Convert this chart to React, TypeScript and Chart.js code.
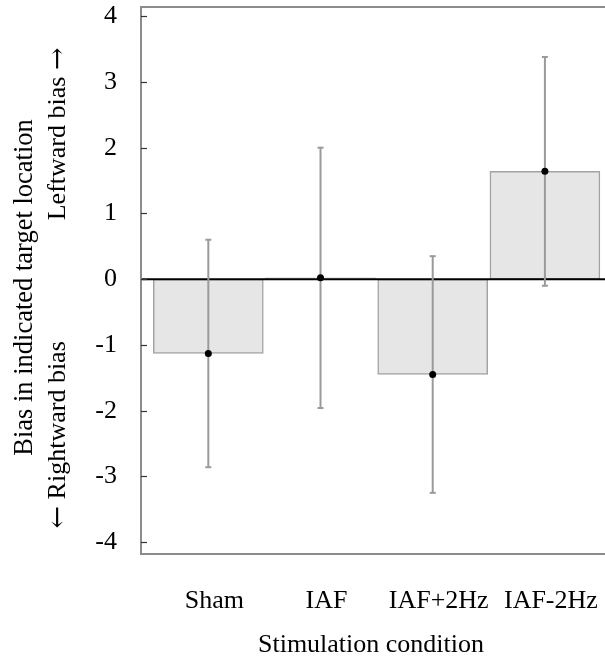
import { useEffect, useRef } from "react";
import { Chart, registerables } from "chart.js";

Chart.register(...registerables);

const categories = ["Sham", "IAF", "IAF+2Hz", "IAF-2Hz"];
const means = [-1.13, 0.02, -1.45, 1.64];
const errors = [1.73, 1.98, 1.8, 1.74];
const yTitleLine1 = "Bias in indicated target location";
const yTitleLow = "Rightward bias";
const yTitleHigh = "Leftward bias";
const xTitle = "Stimulation condition";

const FONT = "'Liberation Serif', 'Times New Roman', serif";
const ARROW_FONT = "'DejaVu Serif', 'Liberation Serif', serif";

function seg(ctx: CanvasRenderingContext2D, x1: number, y1: number, x2: number, y2: number) {
  ctx.beginPath();
  ctx.moveTo(x1, y1);
  ctx.lineTo(x2, y2);
  ctx.stroke();
}

const decorPlugin = {
  id: "decor",
  afterDatasetDraw(chart: any, args: any) {
    if (args.index !== 0) return;
    const { ctx, chartArea: a, scales } = chart;
    const x = scales.x;
    const y = scales.y;
    ctx.save();
    const y0 = y.getPixelForValue(0);
    ctx.strokeStyle = "#000";
    ctx.lineWidth = 2;
    seg(ctx, a.left, y0, chart.width, y0);
    ctx.strokeStyle = "#9a9a9a";
    ctx.lineWidth = 2;
    means.forEach((m, i) => {
      const px = x.getPixelForValue(i + 1);
      const top = y.getPixelForValue(m + errors[i]);
      const bot = y.getPixelForValue(m - errors[i]);
      seg(ctx, px, top, px, bot);
      seg(ctx, px - 3, top, px + 3, top);
      seg(ctx, px - 3, bot, px + 3, bot);
    });
    ctx.restore();
  },
  afterDatasetsDraw(chart: any) {
    const { ctx, chartArea: a, scales } = chart;
    const y = scales.y;
    ctx.save();
    ctx.strokeStyle = "#8c8c8c";
    ctx.lineWidth = 2;
    seg(ctx, a.left, a.top, chart.width, a.top);
    seg(ctx, a.left, a.bottom, chart.width, a.bottom);
    seg(ctx, a.left, a.top - 1, a.left, a.bottom + 1);
    ctx.strokeStyle = "#333";
    ctx.lineWidth = 1.2;
    y.ticks.forEach((t: any) => {
      const py = Math.round(y.getPixelForValue(t.value)) + 0.5;
      seg(ctx, a.left, py, a.left + 6, py);
    });
    ctx.restore();
  },
  afterDraw(chart: any) {
    const { ctx, chartArea: a } = chart;
    const cy = (a.top + a.bottom) / 2 + 7;
    ctx.save();
    ctx.fillStyle = "#000";
    ctx.textBaseline = "middle";
    ctx.translate(25, cy);
    ctx.rotate(-Math.PI / 2);
    ctx.textAlign = "center";
    ctx.font = `26.5px ${FONT}`;
    ctx.fillText(yTitleLine1, 0, 0);
    ctx.restore();
    ctx.save();
    ctx.fillStyle = "#000";
    ctx.textBaseline = "middle";
    const start = cy + 241;
    const end = cy - 240;
    ctx.translate(58, start);
    ctx.rotate(-Math.PI / 2);
    ctx.textAlign = "left";
    ctx.font = `27px ${ARROW_FONT}`;
    ctx.fillText("\u2190", 0, 1);
    const aw = ctx.measureText("\u2190").width;
    ctx.font = `26px ${FONT}`;
    ctx.fillText("\u00A0" + yTitleLow, aw, 0);
    const len = start - end;
    ctx.textAlign = "right";
    ctx.font = `27px ${ARROW_FONT}`;
    ctx.fillText("\u2192", len, 1);
    const aw2 = ctx.measureText("\u2192").width;
    ctx.font = `26px ${FONT}`;
    ctx.fillText(yTitleHigh + "\u00A0", len - aw2, 0);
    ctx.restore();
  },
};

export default function App() {
  const ref = useRef<HTMLCanvasElement>(null);
  useEffect(() => {
    if (!ref.current) return;
    const chart = new Chart(ref.current, {
      type: "bar",
      data: {
        datasets: [
          {
            type: "bar",
            data: means.map((m, i) => ({ x: i + 1, y: m })),
            backgroundColor: "#e6e6e6",
            borderColor: "#a3a3a3",
            borderWidth: 1.5,
            borderSkipped: false,
            barThickness: 110,
            order: 2,
          } as any,
          {
            type: "scatter",
            data: means.map((m, i) => ({ x: i + 1, y: m })),
            pointRadius: 3.5,
            pointBackgroundColor: "#000",
            pointBorderColor: "#000",
            pointBorderWidth: 0,
            order: 1,
          } as any,
        ],
      },
      options: {
        responsive: false,
        animation: false,
        devicePixelRatio: 1,
        layout: { padding: { top: 7, left: 0, right: 0, bottom: 0 } },
        plugins: { legend: { display: false }, tooltip: { enabled: false } },
        scales: {
          x: {
            type: "linear",
            offset: false,
            min: 0.4,
            max: 4.5,
            afterBuildTicks: (s: any) => {
              s.ticks = categories.map((_, i) => ({ value: i + 1 }));
            },
            afterFit: (s: any) => {
              s.height = 111;
              s.paddingLeft = 0;
              s.paddingRight = 0;
            },
            grid: { display: false, drawTicks: false, offset: false },
            border: { display: false },
            ticks: {
              callback: (v: any) => categories[Number(v) - 1] ?? "",
              font: { family: FONT, size: 26 },
              color: "#000",
              padding: 32,
              labelOffset: 6,
              autoSkip: false,
              maxRotation: 0,
              minRotation: 0,
            },
            title: {
              display: true,
              text: xTitle,
              font: { family: FONT, size: 26 },
              color: "#000",
              padding: { top: 0, bottom: 4 },
            },
          },
          y: {
            type: "linear",
            min: -4.18,
            max: 4.14,
            afterFit: (s: any) => {
              s.width = 141;
              s.paddingTop = 0;
              s.paddingBottom = 0;
            },
            grid: { display: false, drawTicks: false },
            border: { display: false },
            ticks: {
              stepSize: 1,
              includeBounds: false,
              font: { family: FONT, size: 26 },
              color: "#000",
              padding: 24,
            },
            title: { display: false },
          },
        },
      } as any,
      plugins: [decorPlugin as any],
    });
    return () => chart.destroy();
  }, []);
  return (
    <div style={{ position: "absolute", left: 0, top: 0, width: 605, height: 665 }}>
      <canvas ref={ref} width={605} height={665} style={{ width: 605, height: 665 }} />
    </div>
  );
}
